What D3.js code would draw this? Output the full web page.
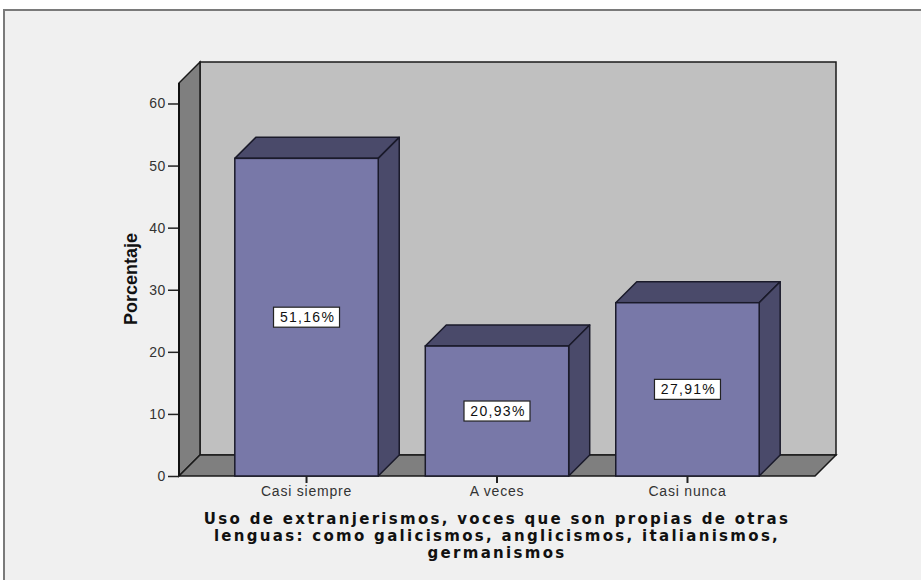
<!DOCTYPE html>
<html>
<head>
<meta charset="utf-8">
<script src="https://cdn.jsdelivr.net/npm/d3@7"></script>
<style>
body { margin: 0; background: #ffffff; }
svg { display: block; }
</style>
</head>
<body>
<div id="chart"><svg></svg></div>
<script>
var categories = ["Casi siempre", "A veces", "Casi nunca"]
var values = [51.16, 20.93, 27.91]
var valueLabels = ["51,16%", "20,93%", "27,91%"]
var yTicks = [0, 10, 20, 30, 40, 50, 60]
var titleLines = [
    "Uso de extranjerismos, voces que son propias de otras",
    "lenguas: como galicismos, anglicismos, italianismos,",
    "germanismos"
]

var screen = {width: 921, height: 580}
var plot = {left: 179, right: 815, top: 83, bottom: 476}
var depth = {x: 21, y: 21}

var svg = d3.select("#chart svg")
    .attr("width", screen.width)
    .attr("height", screen.height)

// outer frame
svg.append("rect")
    .attr("x", 4).attr("y", 10)
    .attr("width", 940).attr("height", 600)
    .attr("fill", "#f0f0f0")
    .attr("stroke", "#7a7a7a")
    .attr("stroke-width", 2)

var yScale = d3.scaleLinear()
    .domain([0, 63.3])
    .range([plot.bottom, plot.top])

var xScale = d3.scaleBand()
    .domain(categories)
    .range([plot.left, plot.right])
    .paddingInner(0.247)
    .paddingOuter(0.293)

var pts = function(arr)
{
    return arr.map(function(p) { return p[0] + "," + p[1] }).join(" ")
}

var y0 = yScale(0), yTop = yScale(63.3)
var wallStroke = "#1a1a1a"

// back wall
svg.append("polygon")
    .attr("points", pts([[plot.left + depth.x, yTop - depth.y], [plot.right + depth.x, yTop - depth.y],
                         [plot.right + depth.x, y0 - depth.y], [plot.left + depth.x, y0 - depth.y]]))
    .attr("fill", "#c0c0c0")
    .attr("stroke", wallStroke)
    .attr("stroke-width", 1.5)

// left wall
svg.append("polygon")
    .attr("points", pts([[plot.left, y0], [plot.left, yTop],
                         [plot.left + depth.x, yTop - depth.y], [plot.left + depth.x, y0 - depth.y]]))
    .attr("fill", "#7f7f7f")
    .attr("stroke", wallStroke)
    .attr("stroke-width", 1.5)

// floor
svg.append("polygon")
    .attr("points", pts([[plot.left, y0], [plot.right, y0],
                         [plot.right + depth.x, y0 - depth.y], [plot.left + depth.x, y0 - depth.y]]))
    .attr("fill", "#7f7f7f")
    .attr("stroke", wallStroke)
    .attr("stroke-width", 1.5)

// bars
var bars = svg.append("g").selectAll("g")
    .data(values)
    .enter()
    .append("g")

bars.append("polygon")
    .attr("points", function(d, i)
    {
        var x = xScale(categories[i]), w = xScale.bandwidth(), y = yScale(d)
        return pts([[x, y], [x + w, y], [x + w + depth.x, y - depth.y], [x + depth.x, y - depth.y]])
    })
    .attr("fill", "#4a4a6a")
    .attr("stroke", "#1a1a2a")
    .attr("stroke-width", 1.5)
    .attr("stroke-linejoin", "round")

bars.append("polygon")
    .attr("points", function(d, i)
    {
        var x = xScale(categories[i]) + xScale.bandwidth(), y = yScale(d)
        return pts([[x, y], [x + depth.x, y - depth.y], [x + depth.x, y0 - depth.y], [x, y0]])
    })
    .attr("fill", "#4a4a6a")
    .attr("stroke", "#1a1a2a")
    .attr("stroke-width", 1.5)
    .attr("stroke-linejoin", "round")

bars.append("rect")
    .attr("x", function(d, i) { return xScale(categories[i]) })
    .attr("y", function(d) { return yScale(d) })
    .attr("width", xScale.bandwidth())
    .attr("height", function(d) { return y0 - yScale(d) })
    .attr("fill", "#7878a8")
    .attr("stroke", "#1a1a2a")
    .attr("stroke-width", 1.5)

// value labels
var labels = svg.append("g").selectAll("g")
    .data(values)
    .enter()
    .append("g")
    .attr("transform", function(d, i)
    {
        return "translate(" + (xScale(categories[i]) + xScale.bandwidth() / 2) + "," + ((yScale(d) + y0) / 2) + ")"
    })

labels.append("rect")
    .attr("x", -33).attr("y", -10)
    .attr("width", 66).attr("height", 20)
    .attr("fill", "#ffffff")
    .attr("stroke", "#222")
    .attr("stroke-width", 1.2)

labels.append("text")
    .text(function(d, i) { return valueLabels[i] })
    .attr("text-anchor", "middle")
    .attr("dy", "0.36em")
    .attr("x", 1)
    .attr("font-family", "Liberation Sans, Arial, sans-serif")
    .attr("font-size", 14)
    .attr("letter-spacing", 1.3)
    .attr("fill", "#111")

// y axis
var yAxis = d3.axisLeft(yScale)
    .tickValues(yTicks)
    .tickSize(11)
    .tickPadding(2)
var yg = svg.append("g")
    .attr("transform", "translate(" + plot.left + ",0)")
    .call(yAxis)
yg.select(".domain").remove()
yg.selectAll("line").attr("stroke", "#222").attr("stroke-width", 1.5)
yg.selectAll("text")
    .attr("font-family", "Liberation Sans, Arial, sans-serif")
    .attr("font-size", 14)
    .attr("letter-spacing", 0.6)
    .attr("fill", "#333")

svg.append("line")
    .attr("x1", plot.left).attr("x2", plot.left)
    .attr("y1", yTop).attr("y2", y0)
    .attr("stroke", "#111")
    .attr("stroke-width", 2)

// x axis
var xAxis = d3.axisBottom(xScale)
    .tickSize(7)
    .tickPadding(3)
var xg = svg.append("g")
    .attr("transform", "translate(0," + y0 + ")")
    .call(xAxis)
xg.select(".domain").remove()
xg.selectAll("line").attr("stroke", "#222").attr("stroke-width", 2)
xg.selectAll("text")
    .attr("font-family", "Liberation Sans, Arial, sans-serif")
    .attr("font-size", 14)
    .attr("letter-spacing", 0.8)
    .attr("fill", "#333")

// axis titles
svg.append("text")
    .text("Porcentaje")
    .attr("transform", "translate(137,279) rotate(-90)")
    .attr("text-anchor", "middle")
    .attr("font-family", "Liberation Sans Narrow, Arial Narrow, Liberation Sans, sans-serif")
    .attr("font-weight", "bold")
    .attr("font-size", 18)
    .attr("fill", "#111")

svg.append("g").selectAll("text")
    .data(titleLines)
    .enter()
    .append("text")
    .text(function(d) { return d })
    .attr("x", 497)
    .attr("y", function(d, i) { return 524 + i * 17 })
    .attr("text-anchor", "middle")
    .attr("font-family", "DejaVu Sans, Verdana, sans-serif")
    .attr("font-weight", "bold")
    .attr("font-size", 15)
    .attr("letter-spacing", 2.3)
    .attr("fill", "#111")
</script>
</body>
</html>
